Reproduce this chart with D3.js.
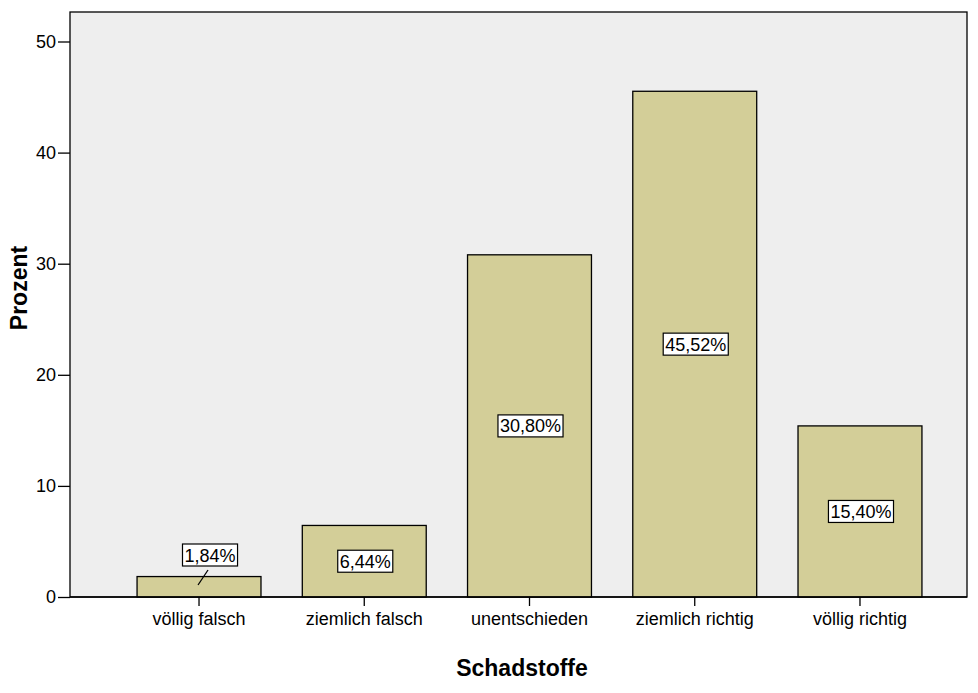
<!DOCTYPE html>
<html><head><meta charset="utf-8">
<script src="https://d3js.org/d3.v7.min.js"></script>
<style>body{margin:0;background:#fff;} text{font-family:"Liberation Sans",Arial,sans-serif;}</style>
</head><body>
<svg id="c" width="978" height="693"></svg>
<script>
const categories = ["völlig falsch","ziemlich falsch","unentschieden","ziemlich richtig","völlig richtig"];
const values = [1.84, 6.44, 30.80, 45.52, 15.40];
const labels = ["1,84%","6,44%","30,80%","45,52%","15,40%"];
const yTicks = [0,10,20,30,40,50];

const FONT = "Liberation Sans, Arial, sans-serif";
const svg = d3.select("#c");
const L=70, R=967, T=12, B=597;
const y = d3.scaleLinear().domain([0,50]).range([B,41.5]);
const x = d3.scaleBand().domain(categories).range([116.4,942.6]).paddingInner(0.25).paddingOuter(0.125);

svg.append("rect").attr("x",L).attr("y",T).attr("width",R-L).attr("height",B-T)
  .attr("fill","#eeeeee").attr("stroke","#000").attr("stroke-width",1.3);

svg.selectAll("rect.bar").data(values).enter().append("rect").attr("class","bar")
  .attr("x",(d,i)=>x(categories[i])).attr("width",x.bandwidth())
  .attr("y",d=>y(d)).attr("height",d=>B-y(d))
  .attr("fill","#d3ce98").attr("stroke","#000").attr("stroke-width",1.3);

// y axis
const ya = svg.append("g").attr("transform",`translate(${L},0)`)
  .call(d3.axisLeft(y).tickValues(yTicks).tickSize(12).tickPadding(2).tickFormat(d3.format("d")));
ya.select(".domain").remove();
ya.selectAll("line").attr("stroke","#000").attr("stroke-width",1.3);
ya.selectAll("text").attr("font-size",18).attr("fill","#000").attr("font-family",FONT);

// x axis
const xa = svg.append("g").attr("transform",`translate(0,${B})`)
  .call(d3.axisBottom(x).tickSize(9).tickPadding(6));
xa.select(".domain").remove();
xa.selectAll("line").attr("stroke","#000").attr("stroke-width",1.3);
xa.selectAll("text").attr("font-size",18).attr("fill","#000").attr("font-family",FONT);

// axis baseline
svg.append("line").attr("x1",L).attr("x2",R).attr("y1",B).attr("y2",B).attr("stroke","#000").attr("stroke-width",1.6);

// value labels
values.forEach((v,i)=>{
  const cx = x(categories[i]) + x.bandwidth()/2;
  let cy, tx = cx + 1;
  const small = (B - y(v)) < 40;
  if (small) {
    cy = 555; tx = cx + 11;
    svg.append("line").attr("x1",cx+9).attr("y1",570).attr("x2",cx-1).attr("y2",585)
      .attr("stroke","#000").attr("stroke-width",1.3);
  } else {
    cy = (y(v)+B)/2;
  }
  const g = svg.append("g");
  const t = g.append("text").attr("x",tx).attr("y",cy+6.5).attr("text-anchor","middle")
    .attr("font-size",18).attr("fill","#000").attr("font-family",FONT).text(labels[i]);
  const bb = t.node().getBBox();
  g.insert("rect","text").attr("x",bb.x-2).attr("y",cy-11).attr("width",bb.width+4).attr("height",22)
    .attr("fill","#fff").attr("stroke","#000").attr("stroke-width",1.2);
});

// titles
svg.append("text").attr("x",522).attr("y",676).attr("text-anchor","middle")
  .attr("font-size",23).attr("font-weight","bold").attr("fill","#000").attr("font-family",FONT).text("Schadstoffe");
svg.append("text").attr("transform","translate(27,288) rotate(-90)").attr("text-anchor","middle")
  .attr("font-size",23).attr("font-weight","bold").attr("fill","#000").attr("font-family",FONT).text("Prozent");
</script>
</body></html>
